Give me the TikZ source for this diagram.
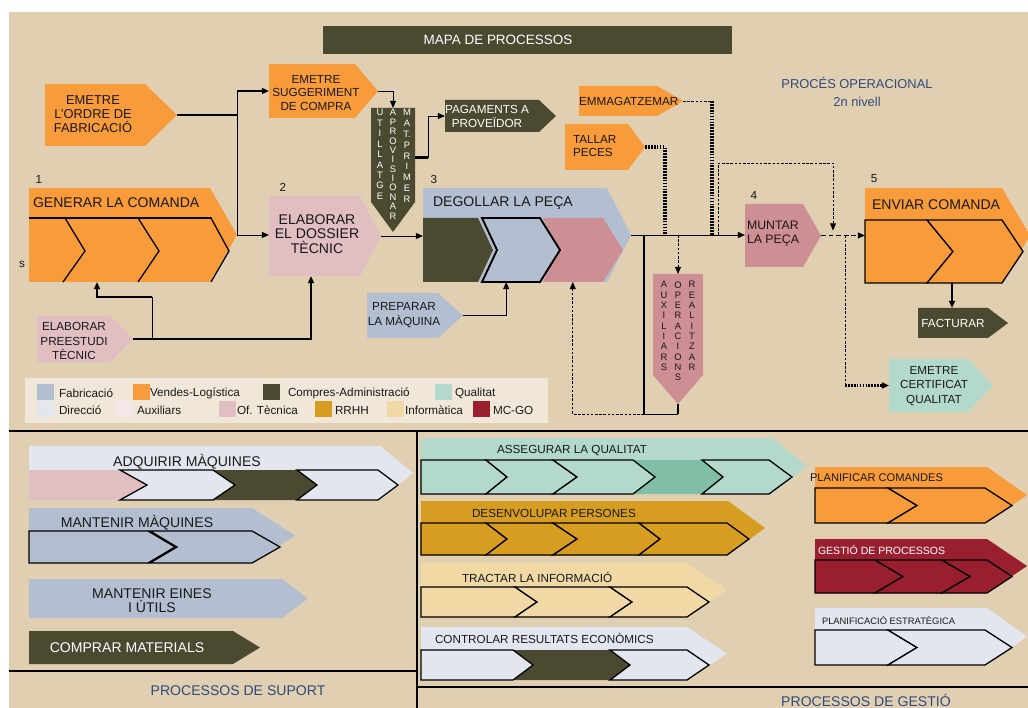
\documentclass[tikz,border=0pt]{standalone}
\usepackage{fontspec}
\setmainfont{Liberation Sans}
\usetikzlibrary{arrows.meta,calc,fit}

\definecolor{colBg}{HTML}{E0CFB1}
\definecolor{colLeg}{HTML}{F1E7D9}
\definecolor{colFab}{HTML}{B3BFD1}
\definecolor{colVen}{HTML}{F89B3A}
\definecolor{colCom}{HTML}{4B4A31}
\definecolor{colQua}{HTML}{B3D9CD}
\definecolor{colQuaDk}{HTML}{80BEA6}
\definecolor{colDir}{HTML}{E4E6EF}
\definecolor{colAux}{HTML}{F3E7E8}
\definecolor{colOft}{HTML}{E0BEC1}
\definecolor{colMun}{HTML}{CD8E94}
\definecolor{colRrhh}{HTML}{D79D20}
\definecolor{colInf}{HTML}{F0D9A5}
\definecolor{colMcgo}{HTML}{9A1F2E}
\definecolor{colBlue}{HTML}{2F4C7D}

\tikzset{
  frame/.style={inner sep=0pt, outer sep=0pt},
  txt/.style={inner sep=0pt, outer sep=0pt, align=center, text=black!90},
  link/.style={line width=0.8pt},
  heavy/.style={line width=2.2pt},
  dashline/.style={line width=0.7pt, dash pattern=on 2.2pt off 1.4pt},
  longdash/.style={line width=0.9pt, dash pattern=on 4pt off 2.5pt},
  dotline/.style={line width=2.6pt, dash pattern=on 1.5pt off 1pt},
  edged/.style={draw=black, line width=1.1pt, line join=miter},
  sepline/.style={line width=2.4pt},
  >={Triangle[length=6pt,width=5pt]},
}

% arrow shaped box pointing right: name, x1, y1, body end, tip, y2, colour
\newcommand{\pent}[7]{%
  \fill[#7] (#2,#3) -- (#4,#3) -- (#5,{(#3+#6)/2}) -- (#4,#6) -- (#2,#6) -- cycle;
  \node[frame, fit={(#2,#3) (#5,#6)}] (#1) {};}
% arrow shaped box pointing down: name, x1, y1, x2, body end, tip, colour
\newcommand{\vpent}[7]{%
  \fill[#7] (#2,#3) -- (#4,#3) -- (#4,#5) -- ({(#2+#4)/2},#6) -- (#2,#5) -- cycle;
  \node[frame, fit={(#2,#3) (#4,#6)}] (#1) {};}
% chevron: style, left, notch, top right, tip, top, bottom
\newcommand{\chev}[7]{%
  \path[#1] (#2,#6) -- (#4,#6) -- (#5,{(#6+#7)/2}) -- (#4,#7) -- (#2,#7) -- (#3,{(#6+#7)/2}) -- cycle;}

\begin{document}
\begin{tikzpicture}[x=0.03cm, y=-0.03cm]
\useasboundingbox (0,0) rectangle (1028,708);
\fill[white] (0,0) rectangle (1028,708);
\fill[colBg] (9,12) rectangle (1028,708);

% heading
\node[frame, fit={(323,26) (732,54)}, fill=colCom] (title) {};
\node[txt, text=white, font=\fontsize{11.5}{13}\selectfont] (title-t) at (498,40) {MAPA DE PROCESSOS};
\node[txt, text=colBlue, font=\fontsize{11}{15}\selectfont] (nivell) at (857,92) {PROCÉS OPERACIONAL\\2n nivell};

%%% operational process
\pent{ordre}{45}{84}{145}{177}{146}{colVen}
\node[txt, font=\fontsize{11}{12}\selectfont] (ordre-t) at (93,114) {EMETRE\\L'ORDRE DE\\FABRICACIÓ};

\pent{sugg}{269}{64}{355}{378}{118}{colVen}
\node[txt, font=\fontsize{10}{11.9}\selectfont] (sugg-t) at (316,93) {EMETRE\\SUGGERIMENT\\DE COMPRA};

% 1
\pent{generar}{29}{188}{210}{237}{282}{colVen}
\draw[edged] (29,218) -- (212,218);
\draw[edged] (65,218) -- (85,251) -- (63,282);
\draw[edged] (138,218) -- (159,251) -- (138,282);
\draw[edged] (211,218) -- (229,251) -- (211,282);
\node[txt, anchor=west, font=\fontsize{12}{14}\selectfont] (generar-t) at (33,203) {GENERAR LA COMANDA};
\node[txt, font=\fontsize{10}{12}\selectfont] (n1) at (39,179) {1};
\node[txt, font=\fontsize{10}{12}\selectfont] (s-t) at (22,264) {s};

% 2
\pent{dossier}{269}{196}{360}{381}{276}{colOft}
\node[txt, font=\fontsize{12}{12.4}\selectfont] (dossier-t) at (317,234) {ELABORAR\\EL DOSSIER\\TÈCNIC};
\node[txt, font=\fontsize{10}{12}\selectfont] (n2) at (283,187) {2};

\vpent{utill}{371}{108}{415}{202}{232}{colCom}
\node[txt, anchor=north, text=white, font=\fontsize{8}{8.9}\selectfont] (utill-a) at (380,109.5) {U\\T\\I\\L\\L\\A\\T\\G\\E};
\node[txt, anchor=north, text=white, font=\fontsize{8}{8}\selectfont] (utill-b) at (393,109.5) {A\\P\\R\\O\\V\\I\\S\\I\\O\\N\\A\\R};
\node[txt, anchor=north, text=white, font=\fontsize{8}{9.2}\selectfont] (utill-c) at (407,109.5) {M\\A\\T.\\P\\R\\I\\M\\E\\R};

\pent{pag}{445}{100}{539}{556}{132}{colCom}
\node[txt, text=white, font=\fontsize{10}{12}\selectfont] (pag-t) at (487,116) {PAGAMENTS A\\PROVEÏDOR};

% 3
\pent{degollar}{423}{188}{607}{631}{282}{colFab}
\chev{fill=colCom}{423}{423}{478}{493}{218}{282}
\chev{fill=colMun}{543}{558}{603}{623}{218}{282}
\chev{fill=colFab, draw=black, line width=1.6pt}{482}{497}{540}{560}{218}{282}
\node[txt, anchor=west, font=\fontsize{12}{14}\selectfont] (degollar-t) at (433,203) {DEGOLLAR LA PEÇA};
\node[txt, font=\fontsize{10}{12}\selectfont] (n3) at (434,179) {3};

\pent{preparar}{367}{293}{438}{463}{338}{colFab}
\node[txt, font=\fontsize{10}{12.7}\selectfont] (preparar-t) at (404,315) {PREPARAR\\LA MÀQUINA};

\pent{tallar}{565}{124}{628}{645}{170}{colVen}
\node[txt, anchor=west, align=left, font=\fontsize{10}{11}\selectfont] (tallar-t) at (573,146) {TALLAR\\PECES};

\pent{emma}{579}{86}{657}{683}{116}{colVen}
\node[txt, anchor=west, font=\fontsize{10}{12}\selectfont] (emma-t) at (579,101) {EMMAGATZEMAR};

\vpent{aux}{653}{274}{703}{375}{404}{colMun}
\node[txt, anchor=north, font=\fontsize{8}{8.8}\selectfont] (aux-a) at (664,281.5) {A\\U\\X\\I\\L\\I\\A\\R\\S};
\node[txt, anchor=north, font=\fontsize{8}{8.8}\selectfont] (aux-b) at (678,281.5) {O\\P\\E\\R\\A\\C\\I\\O\\N\\S};
\node[txt, anchor=north, font=\fontsize{8}{8.8}\selectfont] (aux-c) at (692,281.5) {R\\E\\A\\L\\I\\T\\Z\\A\\R};

% 4
\pent{muntar}{745}{204}{803}{821}{267}{colMun}
\node[txt, anchor=west, align=left, font=\fontsize{10.5}{12}\selectfont] (muntar-t) at (747,234) {MUNTAR\\LA PEÇA};
\node[txt, font=\fontsize{10}{12}\selectfont] (n4) at (754,195) {4};

% 5
\pent{enviar}{865}{188}{1002}{1030}{283}{colVen}
\chev{fill=colVen, edged}{865}{865}{927}{953}{220}{283}
\chev{fill=colVen, edged}{927}{953}{1002}{1023}{220}{283}
\node[txt, anchor=west, font=\fontsize{12}{14}\selectfont] (enviar-t) at (872,205) {ENVIAR COMANDA};
\node[txt, font=\fontsize{10}{12}\selectfont] (n5) at (874,179) {5};

\pent{facturar}{918}{308}{988}{1008}{338}{colCom}
\node[txt, text=white, font=\fontsize{10}{12}\selectfont] (facturar-t) at (953,323) {FACTURAR};

\pent{cert}{889}{359}{968}{993}{412}{colQua}
\node[txt, font=\fontsize{10}{12.3}\selectfont] (cert-t) at (934,386) {EMETRE\\CERTIFICAT\\QUALITAT};

\pent{preestudi}{37}{316}{110}{133}{362}{colOft}
\node[txt, font=\fontsize{10}{12.7}\selectfont] (preestudi-t) at (74,341) {ELABORAR\\PREESTUDI\\TÈCNIC};

% connectors
\draw[heavy] (ordre.east) -- (ordre.east -| generar.east) coordinate (s1);
\draw[link] (s1 |- sugg.west) -- (generar.east);
\draw[heavy,->] (s1 |- sugg.west) -- (sugg.west);
\draw[link,->] (generar.east) -- (generar.east -| dossier.west);
\draw[link,->] (sugg.east) -| (utill.north);
\draw[heavy] ($(utill.north east)!.4!(utill.south east)$) -- ++(13,0) coordinate (u1);
\draw[link,->] (u1) |- (pag.west);
\draw[link,->] (dossier.east) -- (dossier.east -| degollar.west);
\draw[link,->] (preparar.east) -| ($(degollar.south west)!.4!(degollar.south east)$);

\draw[heavy,->] (preestudi.east) -| ($(dossier.south west)+(42,0)$);
\draw[link] ($(preestudi.east)+(19,0)$) -- ++(0,-42) coordinate (p1);
\draw[heavy,->] (p1) -| ($(generar.south west)+(68,0)$);

\draw[link,->] (degollar.east) -- (degollar.east -| muntar.west);
\coordinate (j1) at ($(degollar.east)+(13,0)$);
\coordinate (j2) at ($(j1)+(0,179)$);
\draw[heavy] (j1) -- (j2);
\draw[link] (j2) -- (j2 -| aux.south);
\draw[heavy] (j2 -| aux.south) -- (aux.south);
\draw[dashline,->] (j2) -| ($(degollar.south west)!.72!(degollar.south east)$);
\draw[dashline,->] (aux.north |- degollar.east) -- (aux.north);

\draw[dotline] (tallar.east) -- ++(20,0) coordinate (t1) -- (t1 |- degollar.east);
\draw[dashline] (emma.east) -- ++(29,0) coordinate (e1);
\draw[dotline] (e1) -- (e1 |- degollar.east);
\draw[dashline,->] ($(e1 |- degollar.east)+(6,0)$) -- ++(0,-72) -| ($(muntar.east)+(12,-5)$);

\draw[longdash,->] (muntar.east) -- (muntar.east -| enviar.west);
\coordinate (m1) at ($(muntar.east)+(24,0)$);
\draw[dashline] (m1) -- (m1 |- cert.west);
\draw[dotline,->] (m1 |- cert.west) -- (cert.west);
\draw[heavy,->] ($(enviar.south west)+(87,0)$) coordinate (f1) -- (f1 |- facturar.north);

% legend
\node[frame, fit={(25,378) (548,423)}, fill=colLeg] (legend) {};
\foreach \sx/\sy/\sc/\tx/\lab [count=\i] in {37/384/colFab/59/Fabricació, 133/384/colVen/150/Vendes-Logística, 263/384/colCom/288/Compres-Administració, 435/384/colQua/455/Qualitat, 37/401/colDir/59/Direcció, 115/401/colAux/137/Auxiliars, 219/401/colOft/237/Of. Tècnica, 315/401/colRrhh/335/RRHH, 387/401/colInf/405/Informàtica, 473/401/colMcgo/493/MC-GO}{
  \fill[\sc] (\sx,\sy) rectangle ++(17,16);
  \node[txt, anchor=west, font=\fontsize{10}{12}\selectfont] (lg\i) at (\tx,\sy+9) {\lab};
}

%%% support processes
\pent{adquirir}{29}{446}{380}{413}{500}{colDir}
\chev{fill=colOft}{29}{29}{120}{147}{470}{500}
\chev{fill=colCom}{213}{235}{297}{317}{470}{500}
\chev{fill=colDir, edged}{120}{147}{213}{235}{470}{500}
\chev{fill=colDir, edged}{297}{317}{378}{398}{470}{500}
\node[txt, font=\fontsize{12}{14}\selectfont] (adquirir-t) at (187,462) {ADQUIRIR MÀQUINES};

\pent{mantenir}{29}{508}{252}{295}{563}{colFab}
\node[txt, font=\fontsize{12}{14}\selectfont] (mantenir-t) at (137,523) {MANTENIR MÀQUINES};
\chev{fill=colFab, edged}{29}{29}{148}{175}{531}{563}
\chev{fill=colFab, edged}{150}{177}{252}{280}{531}{563}

\pent{eines}{29}{579}{282}{308}{618}{colFab}
\node[txt, font=\fontsize{12}{12}\selectfont] (eines-t) at (152,601) {MANTENIR EINES\\I ÚTILS};

\pent{comprar}{29}{631}{233}{260}{664}{colCom}
\node[txt, text=white, font=\fontsize{12}{14}\selectfont] (comprar-t) at (127,648) {COMPRAR MATERIALS};

\node[txt, text=colBlue, font=\fontsize{12}{14}\selectfont] (suport-t) at (238,691) {PROCESSOS DE SUPORT};

%%% management processes
\pent{assegurar}{421}{438}{772}{807}{494}{colQua}
\chev{fill=colQuaDk}{633}{655}{702}{723}{460}{494}
\chev{fill=colQua, edged}{421}{421}{486}{507}{460}{494}
\chev{fill=colQua, edged}{486}{507}{553}{577}{460}{494}
\chev{fill=colQua, edged}{553}{577}{633}{655}{460}{494}
\chev{fill=colQua, edged}{702}{723}{769}{792}{460}{494}
\node[txt, font=\fontsize{10}{12}\selectfont] (assegurar-t) at (572,451) {ASSEGURAR LA QUALITAT};

\pent{desenv}{421}{501}{728}{765}{555}{colRrhh}
\chev{fill=colRrhh, edged}{421}{421}{486}{507}{523}{555}
\chev{fill=colRrhh, edged}{486}{507}{553}{577}{523}{555}
\chev{fill=colRrhh, edged}{553}{577}{639}{660}{523}{555}
\chev{fill=colRrhh, edged}{639}{660}{727}{749}{523}{555}
\node[txt, anchor=west, font=\fontsize{10}{12}\selectfont] (desenv-t) at (472,513) {DESENVOLUPAR PERSONES};

\pent{tractar}{421}{563}{687}{727}{617}{colInf}
\chev{fill=colInf, edged}{421}{421}{515}{537}{587}{617}
\chev{fill=colInf, edged}{515}{537}{610}{632}{587}{617}
\chev{fill=colInf, edged}{610}{632}{687}{709}{587}{617}
\node[txt, anchor=west, font=\fontsize{10}{12}\selectfont] (tractar-t) at (462,577) {TRACTAR LA INFORMACIÓ};

\pent{controlar}{421}{627}{687}{727}{680}{colDir}
\chev{fill=colCom}{513}{533}{610}{630}{650}{680}
\chev{fill=colDir, edged}{421}{421}{513}{533}{650}{680}
\chev{fill=colDir, edged}{610}{630}{687}{709}{650}{680}
\node[txt, anchor=west, font=\fontsize{10}{12}\selectfont] (controlar-t) at (435,638) {CONTROLAR RESULTATS ECONÒMICS};

\pent{planif}{815}{467}{987}{1027}{523}{colVen}
\chev{fill=colVen, edged}{815}{815}{888}{917}{488}{523}
\chev{fill=colVen, edged}{888}{917}{985}{1012}{488}{523}
\node[txt, anchor=west, font=\fontsize{9.5}{12}\selectfont] (planif-t) at (810,478) {PLANIFICAR COMANDES};

\pent{gestio}{815}{539}{987}{1027}{593}{colMcgo}
\chev{fill=colMcgo, edged}{815}{815}{875}{903}{560}{593}
\chev{fill=colMcgo, edged}{875}{903}{942}{970}{560}{593}
\chev{fill=colMcgo, edged}{942}{970}{987}{1012}{560}{593}
\node[txt, anchor=west, text=white, font=\fontsize{9}{12}\selectfont] (gestio-t) at (818,550) {GESTIÓ DE PROCESSOS};

\pent{estrat}{815}{608}{987}{1027}{665}{colDir}
\chev{fill=colDir, edged}{815}{815}{888}{917}{630}{665}
\chev{fill=colDir, edged}{888}{917}{985}{1012}{630}{665}
\node[txt, anchor=west, font=\fontsize{8}{10}\selectfont] (estrat-t) at (822,620) {PLANIFICACIÓ ESTRATÈGICA};

\node[txt, text=colBlue, font=\fontsize{12}{14}\selectfont] (gestio-s) at (866,700) {PROCESSOS DE GESTIÓ};

% section frames
\draw[sepline] (9,431) -- (1028,431);
\draw[sepline] (417,431) -- (417,708);
\draw[sepline] (9,671) -- (417,671);
\draw[sepline] (417,687) -- (1028,687);
\end{tikzpicture}
\end{document}
